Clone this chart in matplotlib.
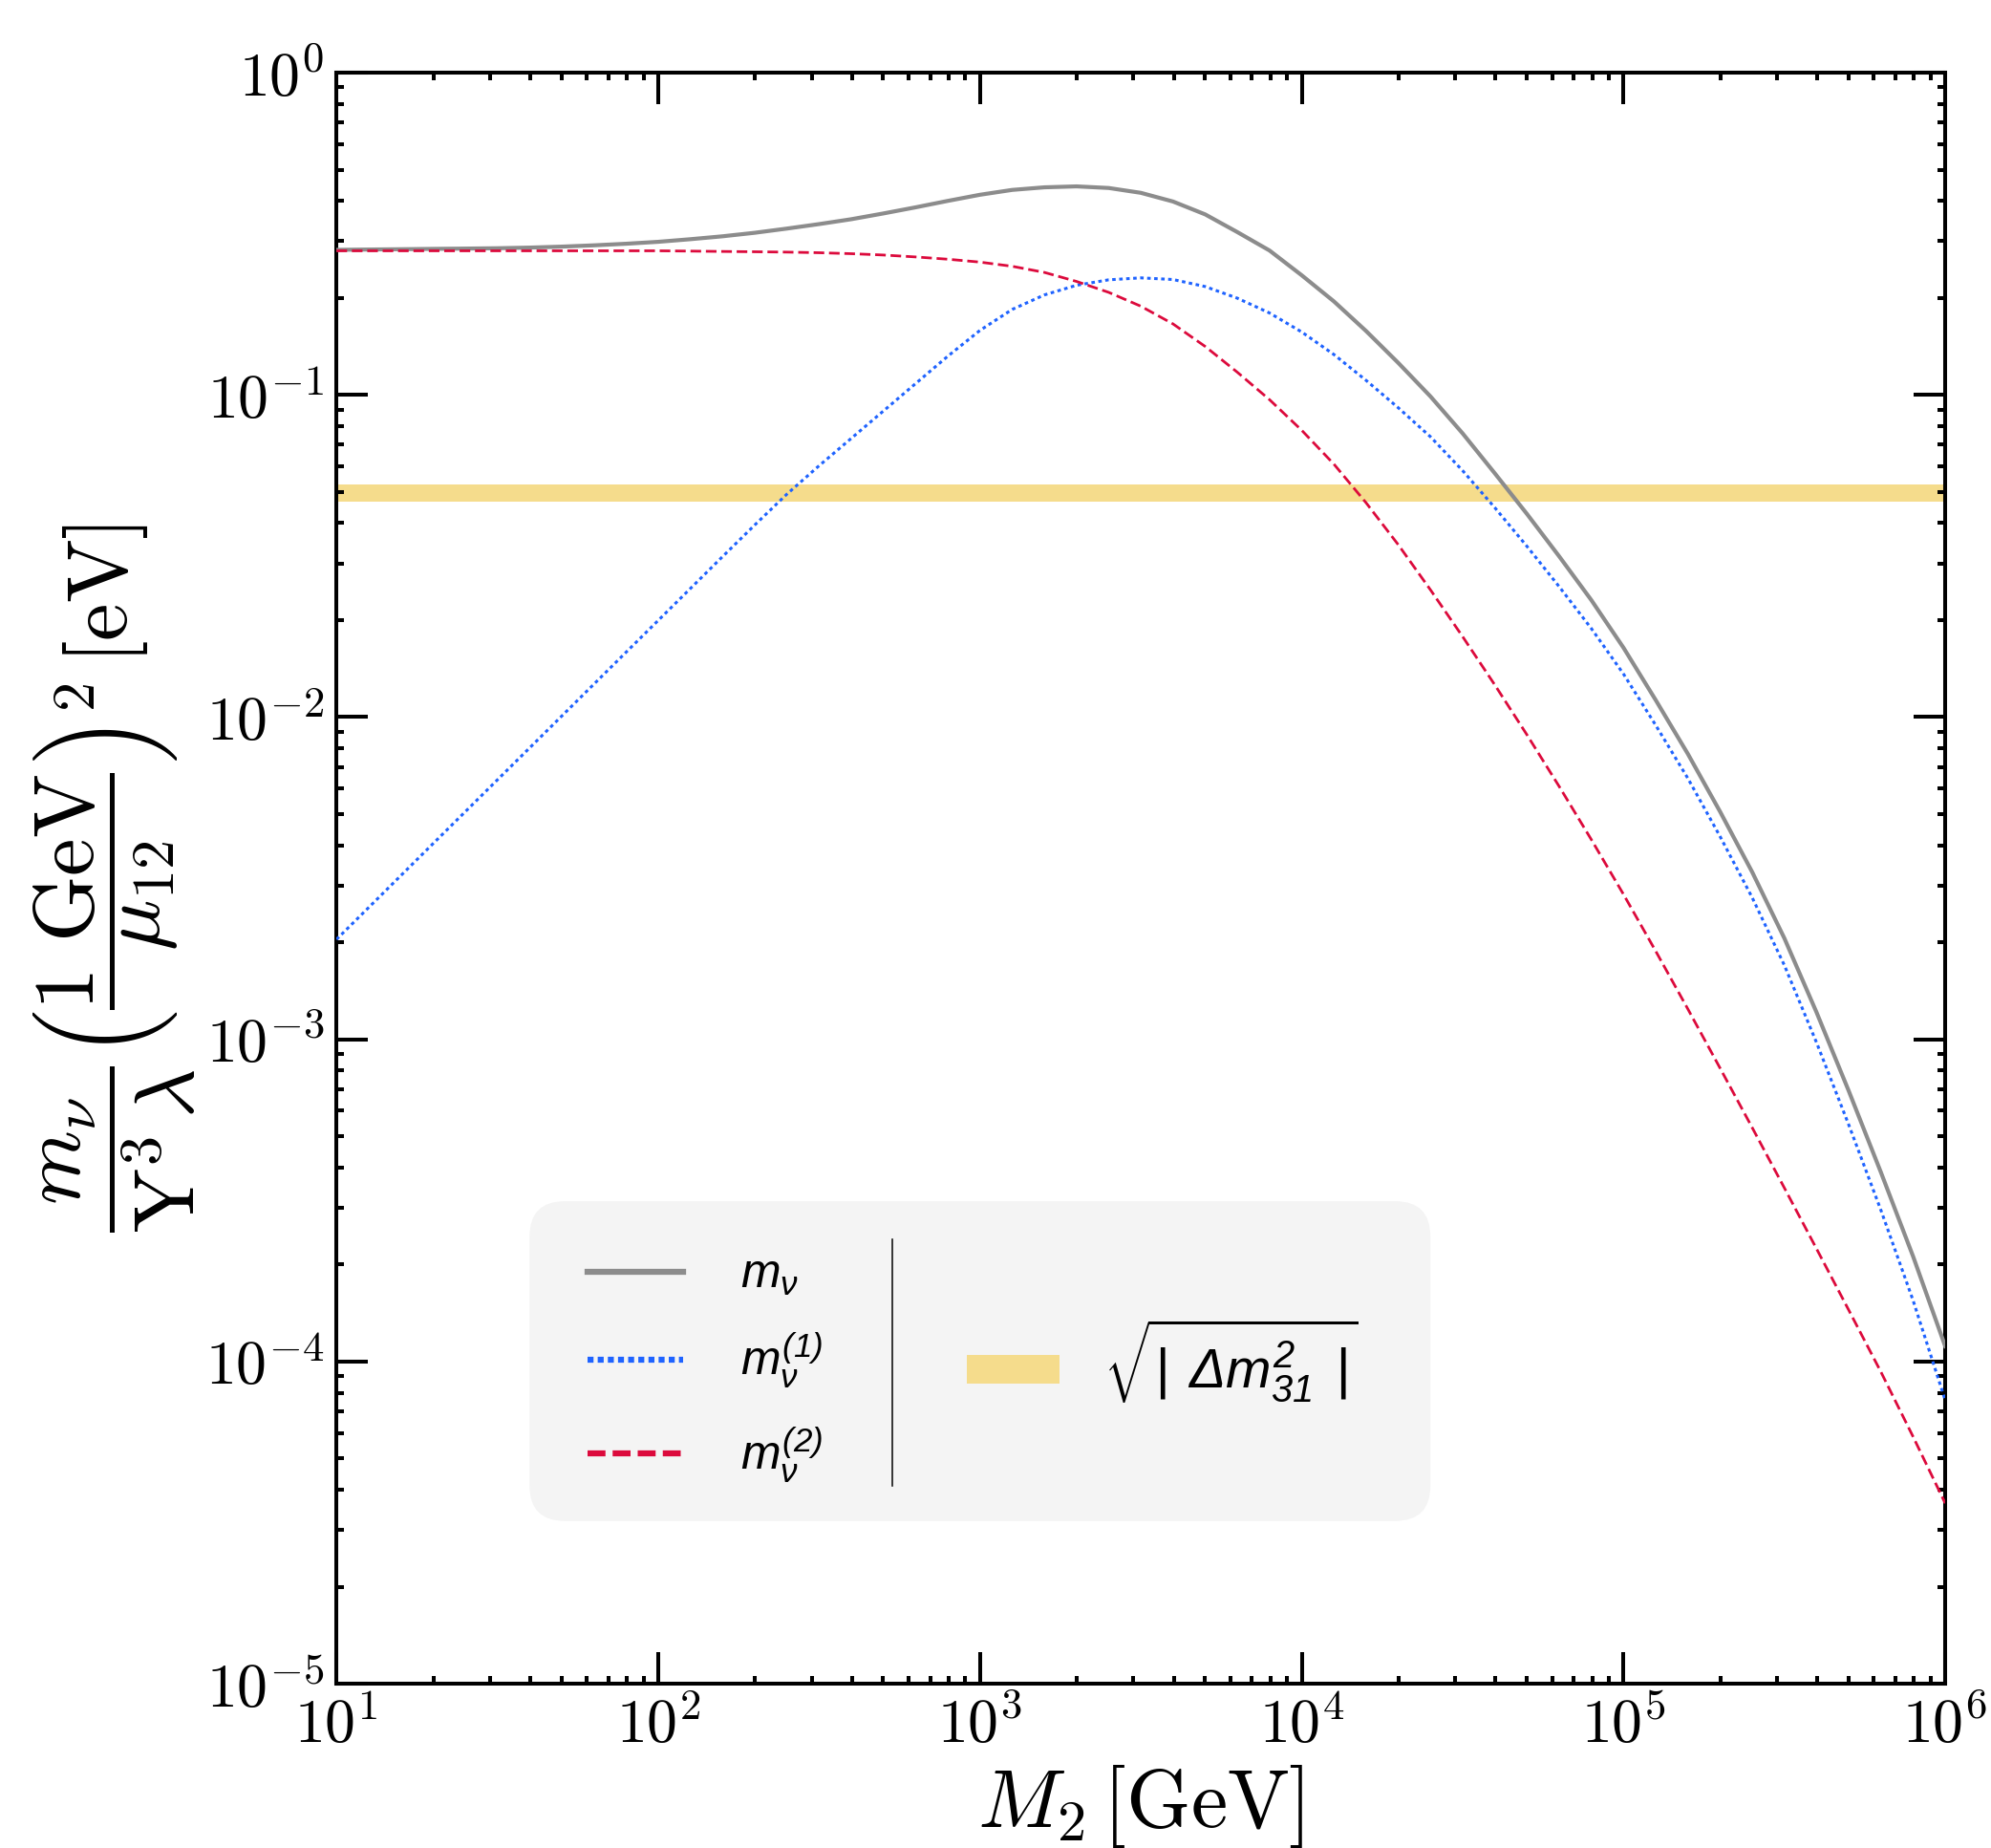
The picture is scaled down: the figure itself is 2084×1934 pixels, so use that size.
import numpy as np
import matplotlib
matplotlib.use("Agg")
import matplotlib.pyplot as plt
from matplotlib.ticker import LogLocator, FuncFormatter, NullFormatter
from matplotlib.lines import Line2D
from matplotlib.patches import Patch, FancyBboxPatch
from matplotlib.font_manager import FontProperties

plt.rcParams['mathtext.fontset'] = 'cm'
# italic sans used only by the legend texts (math_fontfamily='custom')
plt.rcParams['mathtext.rm'] = 'Liberation Sans:italic'
plt.rcParams['mathtext.it'] = 'Liberation Sans:italic'
plt.rcParams['mathtext.sf'] = 'Liberation Sans:italic'

# M_2 [GeV], read every 0.1 decade
M2 = [10, 12.59, 15.85, 19.95, 25.12, 31.62, 39.81, 50.12, 63.10, 79.43,
      100, 125.9, 158.5, 199.5, 251.2, 316.2, 398.1, 501.2, 631.0, 794.3,
      1e3, 1259, 1585, 1995, 2512, 3162, 3981, 5012, 6310, 7943,
      1e4, 1.259e4, 1.585e4, 1.995e4, 2.512e4, 3.162e4, 3.981e4, 5.012e4, 6.310e4, 7.943e4,
      1e5, 1.259e5, 1.585e5, 1.995e5, 2.512e5, 3.162e5, 3.981e5, 5.012e5, 6.310e5, 7.943e5,
      1e6]

# m_nu total (grey)
m_tot = [0.2818, 0.2825, 0.2831, 0.2838, 0.2844, 0.2851, 0.2864, 0.2884, 0.2911, 0.2944,
         0.2985, 0.3041, 0.3105, 0.3184, 0.3281, 0.3388, 0.3508, 0.3656, 0.3819, 0.3999,
         0.4178, 0.4325, 0.4406, 0.4436, 0.4385, 0.4236, 0.3981, 0.3631, 0.3199, 0.2805,
         0.2350, 0.1950, 0.1578, 0.1257, 0.09890, 0.07595, 0.05710, 0.04270, 0.03155, 0.02308,
         0.01642, 0.01130, 0.007690, 0.005095, 0.003305, 0.002060, 0.001213, 0.000692, 0.0003868, 0.0002122,
         0.0001115]

# m_nu^(1) (blue dotted)
m_one = [0.002042, 0.002564, 0.003221, 0.004046, 0.005082, 0.006383, 0.008017, 0.01007, 0.01265, 0.01589,
         0.01995, 0.02506, 0.03148, 0.03945, 0.0492, 0.06026, 0.07328, 0.08913, 0.1084, 0.1318,
         0.1585, 0.1841, 0.2042, 0.2188, 0.2275, 0.2307, 0.228, 0.2168, 0.1995, 0.1795,
         0.1567, 0.1334, 0.1109, 0.0912, 0.07413, 0.05821, 0.04467, 0.03388, 0.02541, 0.01884,
         0.01361, 0.009441, 0.006457, 0.004266, 0.002754, 0.001698, 0.0009772, 0.0005433, 0.0002951, 0.0001549,
         0.00007586]

# m_nu^(2) (red dashed)
m_two = [0.2799, 0.2799, 0.2799, 0.2799, 0.2799, 0.2799, 0.2799, 0.2799, 0.2799, 0.2799,
         0.2799, 0.2793, 0.2786, 0.278, 0.2773, 0.2761, 0.2742, 0.2716, 0.2679, 0.2636,
         0.2582, 0.2506, 0.2399, 0.2249, 0.208, 0.1884, 0.166, 0.1413, 0.1175, 0.09661,
         0.07762, 0.06095, 0.04624, 0.03428, 0.02483, 0.01778, 0.01259, 0.00881, 0.006095, 0.004169,
         0.002818, 0.001879, 0.001242, 0.0008147, 0.0005321, 0.0003459, 0.0002239, 0.0001445, 0.0000929, 0.00005848,
         0.00003631]

# sqrt(|Delta m^2_31|) band [eV]
band_lo, band_hi = 0.0467, 0.0527

c_tot = '#8c8c8c'
c_one = '#1f63ff'
c_two = '#dc0a3c'
c_band = '#f5dc8c'

fig = plt.figure(figsize=(20.84, 19.34), dpi=100)
ax = fig.add_axes([0.169, 0.0889, 0.808, 0.8718])

ax.axhspan(band_lo, band_hi, color=c_band, lw=0, zorder=1)
ax.plot(M2, m_tot, color=c_tot, lw=3.0, zorder=3)
ax.plot(M2, m_one, color=c_one, lw=2.2, dashes=(1.2, 1.2), zorder=3)
ax.plot(M2, m_two, color=c_two, lw=2.0, dashes=(4.0, 1.8), zorder=3)

ax.set_xscale('log')
ax.set_yscale('log')
ax.set_xlim(10, 1e6)
ax.set_ylim(1e-5, 1)

fmt = FuncFormatter(lambda v, p: r'$10^{%d}$' % int(round(np.log10(v))))
for axis in (ax.xaxis, ax.yaxis):
    axis.set_major_locator(LogLocator(base=10, numticks=20))
    axis.set_minor_locator(LogLocator(base=10, subs=np.arange(2, 10), numticks=20))
    axis.set_major_formatter(fmt)
    axis.set_minor_formatter(NullFormatter())

ax.tick_params(which='both', direction='in', top=True, right=True, labelsize=46)
ax.tick_params(which='major', length=24, width=2.9, pad=9)
ax.tick_params(which='minor', length=5.8, width=2.9)
for s in ax.spines.values():
    s.set_linewidth(2.9)

ax.set_xlabel(r'$M_2\,[\mathrm{GeV}]$', fontsize=62, labelpad=6)
ax.set_ylabel(r'$\dfrac{m_\nu}{\mathrm{Y}^3\,\lambda}\left(\dfrac{1\ \mathrm{GeV}}{\mu_{12}}\right)^2\,[\mathrm{eV}]$',
              fontsize=64, labelpad=6)

# legend background and separator
bg = FancyBboxPatch((0.120, 0.101), 0.560, 0.1985, boxstyle='round,pad=0,rounding_size=0.022',
                    transform=ax.transAxes, facecolor='#f4f4f4', edgecolor='none', zorder=4)
ax.add_patch(bg)
ax.plot([0.3456, 0.3456], [0.123, 0.276], transform=ax.transAxes, color='black', lw=1.1, zorder=5)

lp = FontProperties(family='Liberation Sans', style='italic', size=36, math_fontfamily='custom')
h1 = [Line2D([], [], color=c_tot, lw=4.5),
      Line2D([], [], color=c_one, lw=4.5, dashes=(1.0, 0.7)),
      Line2D([], [], color=c_two, lw=4.5, dashes=(3.0, 1.2))]
leg1 = ax.legend(h1, [r'$m_\nu$', r'$m_\nu^{(1)}$', r'$m_\nu^{(2)}$'], prop=lp,
                 loc='center left', bbox_to_anchor=(0.156, 0.195), frameon=False,
                 handlelength=2.0, handletextpad=1.2, labelspacing=0.7,
                 borderpad=0, borderaxespad=0)
leg1.set_zorder(6)
ax.add_artist(leg1)

lp2 = FontProperties(family='Liberation Sans', style='italic', size=41, math_fontfamily='custom')
h2 = [Patch(facecolor=c_band, edgecolor='none')]
leg2 = ax.legend(h2, [r'$\sqrt{|\;\,\Delta m^2_{31}\;\,|}$'], prop=lp2,
                 loc='center left', bbox_to_anchor=(0.392, 0.200), frameon=False,
                 handlelength=1.7, handleheight=0.45, handletextpad=0.8,
                 borderpad=0, borderaxespad=0)
leg2.set_zorder(6)

fig.savefig('out.png', dpi=100)
